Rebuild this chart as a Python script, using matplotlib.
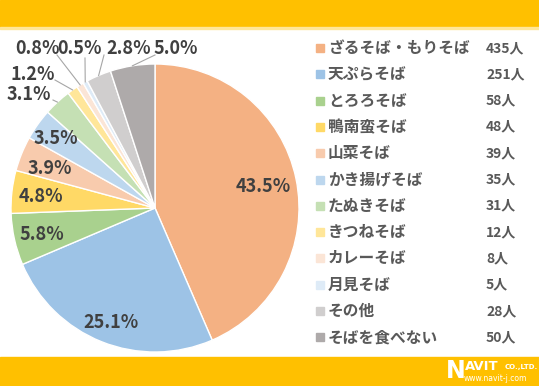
import numpy as np
import matplotlib.pyplot as plt
from matplotlib.patches import Rectangle

plt.rcParams['font.family'] = ['Noto Sans CJK JP', 'DejaVu Sans']

# data
names = ['ざるそば・もりそば', '天ぷらそば', 'とろろそば', '鴨南蛮そば', '山菜そば',
         'かき揚げそば', 'たぬきそば', 'きつねそば', 'カレーそば', '月見そば',
         'その他', 'そばを食べない']
counts = [435, 251, 58, 48, 39, 35, 31, 12, 8, 5, 28, 50]
colors = ['#F4B183', '#9DC3E6', '#A9D18E', '#FFD966', '#F8CBAD', '#BDD7EE',
          '#C5E0B4', '#FFE699', '#FBE5D6', '#DEEBF7', '#D0CECE', '#AEAAAA']

# label layout (image pixels): text centre, and leader line end (None = no line)
label_xy = [(263, 187), (111, 323), (42, 235), (41, 197), (50, 168), (56, 138),
            (29, 95), (33, 75), (37, 48), (79, 48), (129, 48), (176, 48)]
leader_end = [None, None, None, None, None, None,
              (53, 100), (55, 80), (57, 55), (85, 58), (104, 55), (155, 55)]

W, H = 539, 386
cx, cy, r = 155, 208, 144

fig = plt.figure(figsize=(W / 100, H / 100), dpi=100)
ax = fig.add_axes([0, 0, 1, 1])

# yellow bars
ax.add_patch(Rectangle((0, 0), W, 27, color='#FFC000', zorder=0))
ax.add_patch(Rectangle((0, 27), W, 1.5, color='#FFE699', zorder=0))
ax.add_patch(Rectangle((0, 357), W, H - 357, color='#FFC000', zorder=0))

total = sum(counts)
wedges, _ = ax.pie(counts, colors=colors, startangle=-90, counterclock=True,
                   center=(cx, cy), radius=r, frame=True,
                   wedgeprops=dict(edgecolor='white', linewidth=1))
ax.set_xlim(0, W)
ax.set_ylim(H, 0)
ax.set_aspect('equal')
ax.axis('off')

for i, w in enumerate(wedges):
    pct = counts[i] / total * 100
    tx, ty = label_xy[i]
    ax.text(tx, ty, f'{pct:.1f}%', ha='center', va='center', fontsize=13,
            fontweight='bold', color='#404040', zorder=5)
    if leader_end[i] is not None:
        th = np.deg2rad((w.theta1 + w.theta2) / 2)
        ex, ey = cx + r * np.cos(th), cy + r * np.sin(th)
        lx, ly = leader_end[i]
        ax.plot([ex, lx], [ey, ly], color='#A6A6A6', lw=0.8, zorder=4)

# legend
row0, step = 48, 26.3
for i, name in enumerate(names):
    y = row0 + i * step
    ax.add_patch(Rectangle((316, y - 4), 8, 8, color=colors[i], zorder=5))
    ax.text(328, y, name, ha='left', va='center', fontsize=11.3, fontweight='bold',
            color='#595959')
    ax.text(486, y, f'{counts[i]}人', ha='left', va='center', fontsize=10,
            fontweight='bold', color='#595959')

# logo
ax.text(446, 371, 'N', ha='left', va='center', fontsize=17, fontweight='bold',
        color='white', family='DejaVu Sans')
ax.text(465, 366, 'AVIT', ha='left', va='center', fontsize=9.5, fontweight='bold',
        color='white', family='DejaVu Sans')
ax.text(505, 367.5, 'CO.,LTD.', ha='left', va='center', fontsize=5, fontweight='bold',
        color='white', family='DejaVu Sans')
ax.text(464, 378.5, 'www.navit-j.com', ha='left', va='center', fontsize=5.5,
        color='white', family='DejaVu Sans')

fig.savefig('out.png', dpi=100)
